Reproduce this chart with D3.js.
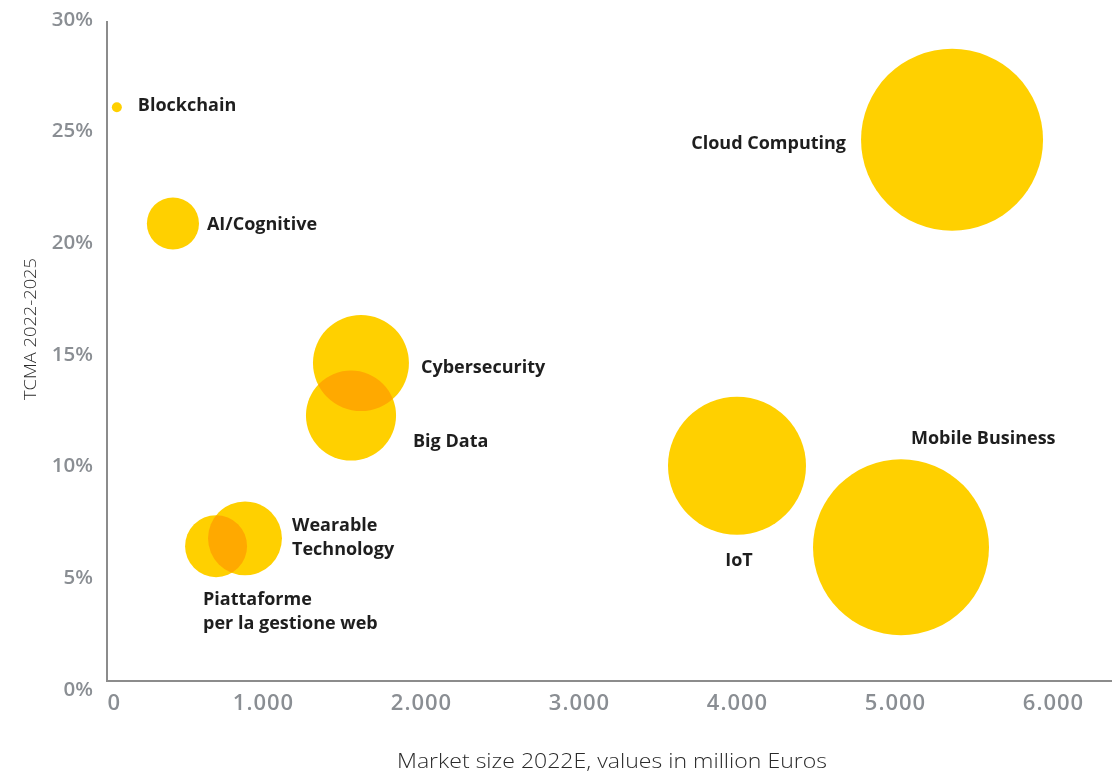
<!DOCTYPE html>
<html>
<head>
<meta charset="utf-8">
<script src="https://cdn.jsdelivr.net/npm/d3@7"></script>
<style>
  html, body { margin: 0; padding: 0; background: #ffffff; }
  svg { display: block; }
  .tick-label { font-family: "Open Sans", sans-serif; font-weight: 600; fill: #8a8e93; }
  .bubble-label { font-family: "Open Sans", sans-serif; font-weight: 700; fill: #1e1e1e; }
  .axis-title { font-family: "Open Sans", sans-serif; font-weight: 300; fill: #2a2a2a; }
</style>
</head>
<body>
<div id="chart"></div>
<script>
// Technology segments: market size 2022E (million €) vs. TCMA 2022-2025 (%)
const categories = [
  "Blockchain", "AI/Cognitive", "Cybersecurity", "Big Data",
  "Wearable Technology", "Piattaforme per la gestione web",
  "IoT", "Mobile Business", "Cloud Computing"
];
const marketSize = [75, 430, 1620, 1557, 886, 703, 4000, 5038, 5361];
const growthRate = [26.0, 20.8, 14.55, 12.2, 6.7, 6.35, 9.95, 6.3, 24.55];
const bubbleSize = [0.3, 8.2, 27.8, 24.5, 16.5, 11.6, 57.5, 93.5, 100];

// Label text lines for each bubble
const labelLines = [
  ["Blockchain"], ["AI/Cognitive"], ["Cybersecurity"], ["Big Data"],
  ["Wearable", "Technology"], ["Piattaforme", "per la gestione web"],
  ["IoT"], ["Mobile Business"], ["Cloud Computing"]
];

const xTicks = [0, 1000, 2000, 3000, 4000, 5000, 6000];
const yTicks = [0, 5, 10, 15, 20, 25, 30];
const xTitle = "Market size 2022E, values in million Euros";
const yTitle = "TCMA 2022-2025";

const W = 1112, H = 773;

// Label placement relative to each bubble centre: [dx, dy, anchor]
const labelLayout = [
  { dx: 21, dy: -3, anchor: "start" },
  { dx: 34, dy: 0, anchor: "start" },
  { dx: 60, dy: 4, anchor: "start" },
  { dx: 62, dy: 25, anchor: "start" },
  { dx: 47, dy: -14, anchor: "start" },
  { dx: -13, dy: 53, anchor: "start" },
  { dx: 2, dy: 94, anchor: "middle" },
  { dx: 10, dy: -110, anchor: "start" },
  { dx: -106, dy: 3, anchor: "end" }
];

const data = categories.map((c, i) => ({
  name: c,
  x: marketSize[i],
  y: growthRate[i],
  size: bubbleSize[i],
  lines: labelLines[i],
  layout: labelLayout[i]
}));

const x = d3.scaleLinear().domain([0, 6000]).range([105, 1053]);
const y = d3.scaleLinear().domain([0, 30]).range([688, 18]);
const r = d3.scaleSqrt().domain([0, 100]).range([0, 91]);

const originX = 107, originY = 681;

const svg = d3.select("#chart").append("svg")
  .attr("width", W).attr("height", H);

// Bubbles (drawn largest first, multiply blend so overlaps darken)
const bubbles = svg.append("g");
bubbles.selectAll("circle")
  .data(data.slice().sort((a, b) => b.size - a.size))
  .join("circle")
  .attr("cx", d => x(d.x))
  .attr("cy", d => y(d.y))
  .attr("r", d => r(d.size))
  .attr("fill", "#ffd000")
  .style("mix-blend-mode", "multiply");

// Axes lines
svg.append("line")
  .attr("x1", originX).attr("x2", originX)
  .attr("y1", 21).attr("y2", originY)
  .attr("stroke", "#8c8c8c").attr("stroke-width", 2);
svg.append("line")
  .attr("x1", originX - 1).attr("x2", W)
  .attr("y1", originY).attr("y2", originY)
  .attr("stroke", "#8c8c8c").attr("stroke-width", 2);

// Y tick labels
const yAxis = d3.axisLeft(y).tickValues(yTicks).tickFormat(d => d + "%").tickSize(0).tickPadding(0);
const gy = svg.append("g").attr("transform", "translate(93,0)").call(yAxis);
gy.select(".domain").remove();
gy.selectAll("text")
  .attr("class", "tick-label")
  .attr("font-size", 20.5)
  .attr("fill", null)
  .attr("dy", "0.35em");

// X tick labels
const fmt = d => d === 0 ? "0" : d3.format(",")(d).replace(/,/g, ".");
const xAxis = d3.axisBottom(x).tickValues(xTicks).tickFormat(fmt).tickSize(0).tickPadding(0);
const gx = svg.append("g").attr("transform", "translate(0,702)").call(xAxis);
gx.select(".domain").remove();
gx.selectAll("text")
  .attr("class", "tick-label")
  .attr("font-size", 22)
  .attr("letter-spacing", 1)
  .attr("fill", null)
  .attr("dy", "0.35em")
  .attr("text-anchor", d => d === 0 ? "start" : "middle")
  .attr("x", d => d === 0 ? originX - x(0) : 0);

// Bubble labels
const labels = svg.append("g");
data.forEach(d => {
  const cx = x(d.x), cy = y(d.y);
  const t = labels.append("text")
    .attr("class", "bubble-label")
    .attr("font-size", 18)
    .attr("text-anchor", d.layout.anchor)
    .attr("x", cx + d.layout.dx)
    .attr("y", cy + d.layout.dy);
  d.lines.forEach((line, i) => {
    t.append("tspan")
      .attr("x", cx + d.layout.dx)
      .attr("dy", i === 0 ? "0.35em" : 24)
      .text(line);
  });
});

// Axis titles
svg.append("text")
  .attr("class", "axis-title")
  .attr("x", 612).attr("y", 760)
  .attr("text-anchor", "middle")
  .attr("dominant-baseline", "central")
  .attr("font-size", 21)
  .attr("textLength", 430)
  .attr("lengthAdjust", "spacingAndGlyphs")
  .text(xTitle);

svg.append("text")
  .attr("class", "axis-title")
  .attr("transform", "translate(30,329) rotate(-90)")
  .attr("text-anchor", "middle")
  .attr("dominant-baseline", "central")
  .attr("font-size", 16)
  .attr("textLength", 142)
  .attr("lengthAdjust", "spacingAndGlyphs")
  .text(yTitle);
</script>
</body>
</html>
